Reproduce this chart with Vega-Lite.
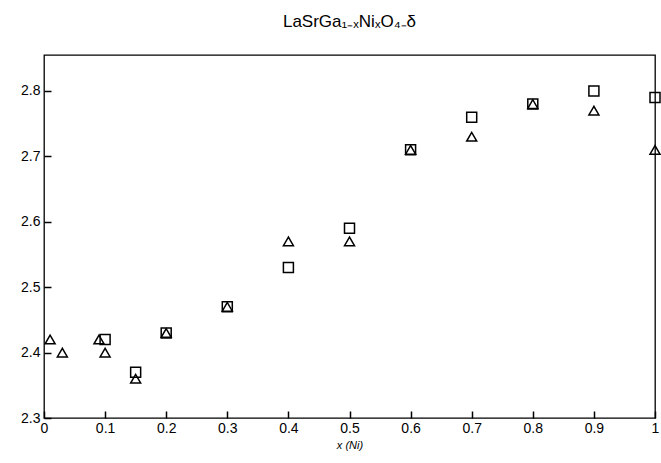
{
  "$schema": "https://vega.github.io/schema/vega-lite/v6.json",
  "width": 611,
  "height": 363,
  "autosize": {"type": "none"},
  "padding": {"left": 44, "top": 55, "right": 6, "bottom": 45},
  "background": "white",
  "title": {
    "text": "LaSrGa₁₋ₓNiₓO₄₋δ",
    "font": "Liberation Sans",
    "fontSize": 17,
    "fontWeight": "normal",
    "color": "black",
    "anchor": "middle",
    "offset": 24
  },
  "config": {
    "view": {"stroke": "black", "strokeWidth": 1.3},
    "axis": {
      "grid": false,
      "labelColor": "black",
      "labelFont": "Liberation Sans",
      "labelFontSize": 14,
      "titleFont": "Liberation Sans",
      "titleColor": "black"
    }
  },
  "data": {
    "values": [
      {"x": 0.10, "y": 2.42, "s": "square"},
      {"x": 0.15, "y": 2.37, "s": "square"},
      {"x": 0.20, "y": 2.43, "s": "square"},
      {"x": 0.30, "y": 2.47, "s": "square"},
      {"x": 0.40, "y": 2.53, "s": "square"},
      {"x": 0.50, "y": 2.59, "s": "square"},
      {"x": 0.60, "y": 2.71, "s": "square"},
      {"x": 0.70, "y": 2.76, "s": "square"},
      {"x": 0.80, "y": 2.78, "s": "square"},
      {"x": 0.90, "y": 2.80, "s": "square"},
      {"x": 1.00, "y": 2.79, "s": "square"},
      {"x": 0.01, "y": 2.42, "s": "triangle"},
      {"x": 0.03, "y": 2.40, "s": "triangle"},
      {"x": 0.09, "y": 2.42, "s": "triangle"},
      {"x": 0.10, "y": 2.40, "s": "triangle"},
      {"x": 0.15, "y": 2.36, "s": "triangle"},
      {"x": 0.20, "y": 2.43, "s": "triangle"},
      {"x": 0.30, "y": 2.47, "s": "triangle"},
      {"x": 0.40, "y": 2.57, "s": "triangle"},
      {"x": 0.50, "y": 2.57, "s": "triangle"},
      {"x": 0.60, "y": 2.71, "s": "triangle"},
      {"x": 0.70, "y": 2.73, "s": "triangle"},
      {"x": 0.80, "y": 2.78, "s": "triangle"},
      {"x": 0.90, "y": 2.77, "s": "triangle"},
      {"x": 1.00, "y": 2.71, "s": "triangle"}
    ]
  },
  "mark": {"type": "point", "filled": false, "strokeWidth": 1.5, "size": 100, "opacity": 1},
  "encoding": {
    "x": {
      "field": "x",
      "type": "quantitative",
      "scale": {"domain": [0, 1], "nice": false, "zero": false},
      "axis": {
        "values": [0, 0.1, 0.2, 0.3, 0.4, 0.5, 0.6, 0.7, 0.8, 0.9, 1],
        "labelExpr": "datum.value == 0 ? '0' : datum.value == 1 ? '1' : format(datum.value, '.1f')",
        "domain": false,
        "ticks": true,
        "tickColor": "black",
        "tickWidth": 1.5,
        "offset": -7,
        "tickSize": 7,
        "labelPadding": 3,
        "labelOverlap": false,
        "labelFlush": false,
        "title": "x (Ni)",
        "titleFontSize": 11,
        "titleFontStyle": "italic",
        "titleFontWeight": "normal",
        "titlePadding": 4
      }
    },
    "y": {
      "field": "y",
      "type": "quantitative",
      "scale": {"domain": [2.3, 2.855], "nice": false, "zero": false},
      "axis": {
        "values": [2.3, 2.4, 2.5, 2.6, 2.7, 2.8],
        "format": ".1f",
        "domain": false,
        "ticks": true,
        "tickColor": "black",
        "tickWidth": 1.5,
        "offset": -7,
        "tickSize": 7,
        "labelPadding": 4,
        "labelOverlap": false,
        "labelFlush": false,
        "title": null
      }
    },
    "shape": {
      "field": "s",
      "type": "nominal",
      "scale": {"domain": ["square", "triangle"], "range": ["square", "triangle-up"]},
      "legend": null
    },
    "color": {"value": "black"}
  }
}
